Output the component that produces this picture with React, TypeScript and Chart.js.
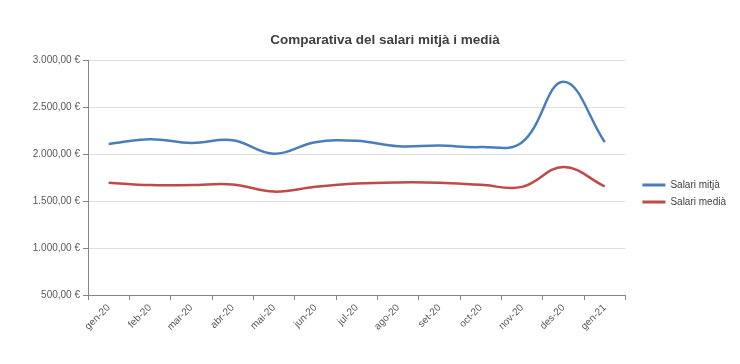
import React, { useEffect, useRef } from "react";
import { Chart, registerables } from "chart.js";

Chart.register(...registerables);

const categories = ["gen-20", "feb-20", "mar-20", "abr-20", "mai-20", "jun-20", "jul-20", "ago-20", "set-20", "oct-20", "nov-20", "des-20", "gen-21"];
const salariMitja = [2106, 2158, 2117, 2146, 2002, 2125, 2140, 2082, 2090, 2074, 2125, 2769, 2128];
const salariMedia = [1695, 1670, 1670, 1676, 1600, 1652, 1687, 1698, 1695, 1672, 1650, 1862, 1655];
const seriesNames = ["Salari mitjà", "Salari medià"];
const titleText = "Comparativa del salari mitjà i medià";
const yMin = 500;
const yMax = 3000;
const yStep = 500;

const BLUE = "#4a7ebb";
const RED = "#be4b48";
const FONT = "'Liberation Sans', Arial, sans-serif";

function fmtEuro(v: number): string {
  const fixed = v.toFixed(2);
  const [intPart, dec] = fixed.split(".");
  const withDots = intPart.replace(/\B(?=(\d{3})+(?!\d))/g, ".");
  return `${withDots},${dec} €`;
}

const titlePlugin = {
  id: "customTitle",
  afterLayout(chart: any) {
    const lg = chart.legend;
    if (lg) {
      lg.left += 10;
      lg.right += 10;
      lg.top -= 14;
      lg.bottom -= 14;
    }
  },
  afterDraw(chart: any) {
    const ctx = chart.ctx;
    ctx.save();
    ctx.font = `bold 13.5px ${FONT}`;
    ctx.fillStyle = "#404040";
    ctx.textAlign = "center";
    ctx.textBaseline = "middle";
    ctx.fillText(titleText, 385, 40);
    ctx.restore();
  },
};

export default function App() {
  const ref = useRef<HTMLCanvasElement | null>(null);

  useEffect(() => {
    document.body.style.margin = "0";
    const canvas = ref.current;
    if (!canvas) return;
    const chart = new Chart(canvas, {
      type: "line",
      data: {
        labels: categories,
        datasets: [
          {
            label: seriesNames[0],
            data: salariMitja,
            borderColor: BLUE,
            backgroundColor: BLUE,
            borderWidth: 2.5,
            pointRadius: 0,
            tension: 0.4,
            fill: false,
          },
          {
            label: seriesNames[1],
            data: salariMedia,
            borderColor: RED,
            backgroundColor: RED,
            borderWidth: 2.5,
            pointRadius: 0,
            tension: 0.4,
            fill: false,
          },
        ],
      },
      options: {
        responsive: false,
        animation: false,
        layout: { padding: { top: 60, bottom: 9, left: 0, right: 14 } },
        plugins: {
          title: { display: false },
          tooltip: { enabled: false },
          legend: {
            position: "right",
            align: "center",
            labels: {
              font: { family: FONT, size: 10 },
              color: "#404040",
              boxWidth: 23,
              boxHeight: 3,
              padding: 7,
              generateLabels: (c: any) =>
                c.data.datasets.map((ds: any, i: number) => ({
                  text: ds.label,
                  fillStyle: ds.borderColor,
                  strokeStyle: ds.borderColor,
                  lineWidth: 0,
                  hidden: false,
                  datasetIndex: i,
                  fontColor: "#404040",
                })),
            },
          },
        },
        scales: {
          x: {
            offset: true,
            grid: {
              offset: true,
              drawOnChartArea: false,
              tickColor: "#868686",
              tickLength: 5,
            },
            border: { color: "#868686", width: 1 },
            ticks: {
              font: { family: FONT, size: 10 },
              color: "#595959",
              maxRotation: 45,
              minRotation: 45,
              autoSkip: false,
              padding: 2,
            },
            afterFit: (s: any) => {
              s.height = 60;
            },
          },
          y: {
            min: yMin,
            max: yMax,
            ticks: {
              stepSize: yStep,
              font: { family: FONT, size: 10 },
              color: "#595959",
              padding: 3,
              callback: (v: any) => fmtEuro(Number(v)),
            },
            grid: {
              color: "#dedede",
              tickColor: "#868686",
              tickLength: 5,
            },
            border: { color: "#868686", width: 1 },
            afterFit: (s: any) => {
              s.width = 88;
            },
          },
        },
      },
      plugins: [titlePlugin],
    });
    return () => chart.destroy();
  }, []);

  return (
    <div style={{ width: 740, height: 364, background: "#fff" }}>
      <canvas ref={ref} width={740} height={364} />
    </div>
  );
}
